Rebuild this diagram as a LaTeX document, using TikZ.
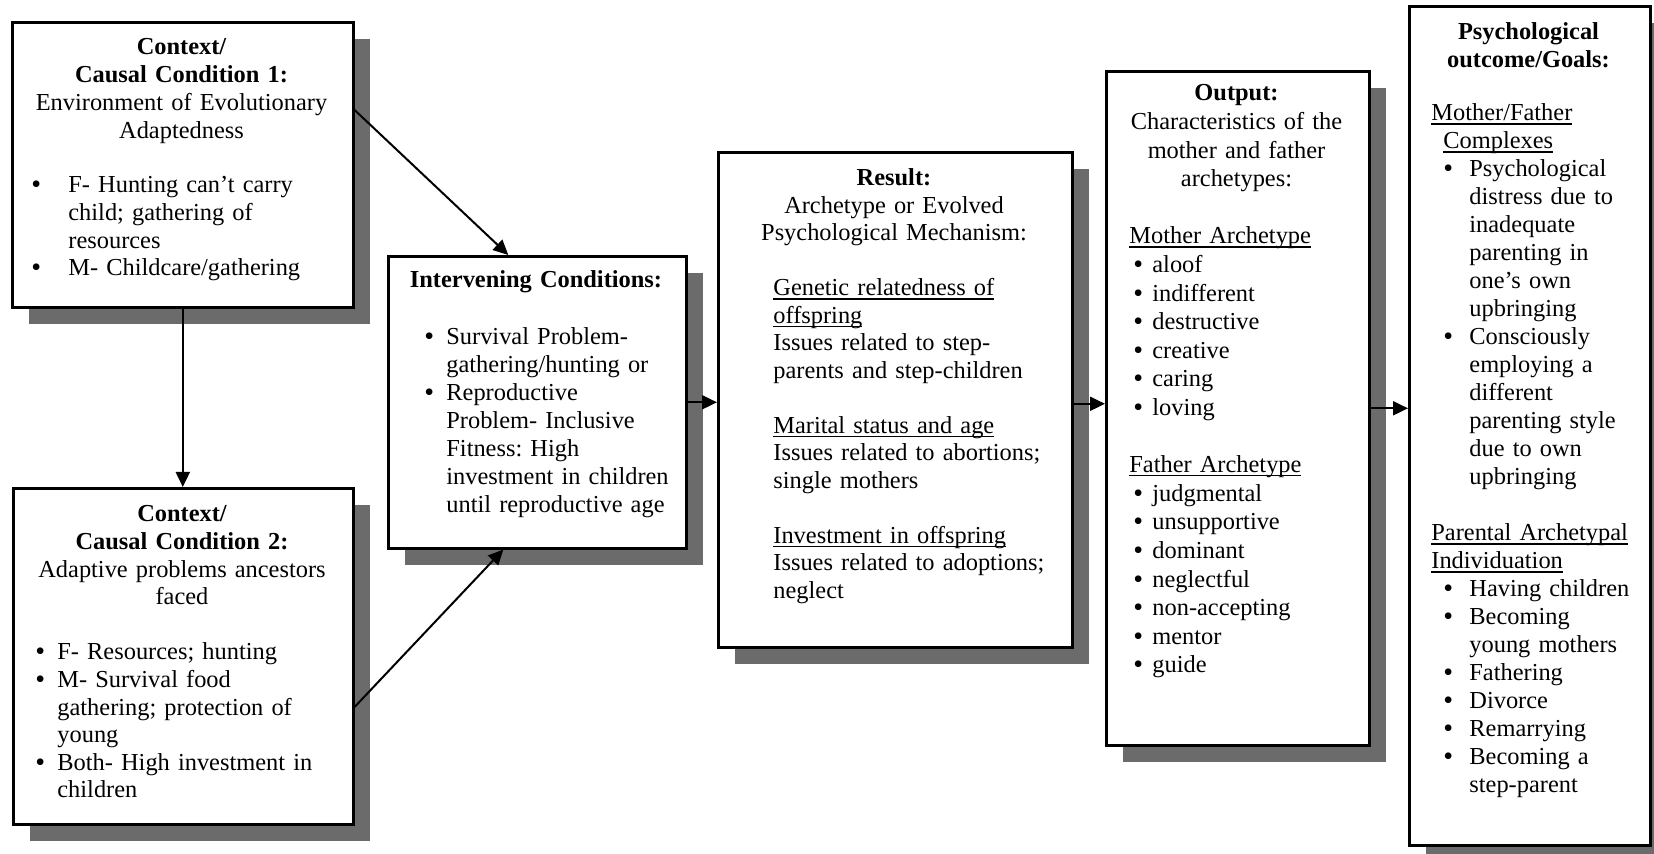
\documentclass[tikz,border=0pt]{standalone}
\usepackage{fontspec}
\setmainfont{Liberation Serif}
\usetikzlibrary{arrows.meta,shadows}
\setlength\parindent{0pt}
\frenchspacing
\newlength\bind
\newlength\bpre
\newsavebox\ulbox
\newcommand\fs[1]{\fontsize{12.2pt}{#1}\selectfont}
\newcommand\bl{\hspace*{\bpre}\makebox[\bind][l]{\smash{\raisebox{-0.5pt}{\fontsize{14pt}{14pt}\selectfont\textbullet}}}}
\newcommand\cl{\hspace*{\bpre}\hspace*{\bind}}
\newcommand\uln[1]{\leavevmode\sbox\ulbox{#1}\rlap{\rule[-1.8pt]{\wd\ulbox}{0.6pt}}\usebox\ulbox}

\begin{document}
\begin{tikzpicture}[x=0.5pt,y=-0.5pt]

\tikzset{panel/.style={draw,line width=1.3pt,fill=white,inner sep=0pt,anchor=north west,
  drop shadow={shadow xshift=8.5pt,shadow yshift=-8.5pt,fill=black!58,opacity=1}},}
\tikzset{headtxt/.style={inner sep=0pt,anchor=base,align=center,text width=#1},}
\tikzset{bodytxt/.style={inner sep=0pt,anchor=base west,align=left,text width=#1},}
\tikzset{arr/.style={-{Triangle[length=7.5pt,width=7pt]},line width=1pt},}

  \useasboundingbox (0,0) rectangle (1654,854);

  \draw (11,21) node[panel,minimum width=170.5pt,minimum height=142.5pt](ctxA) {};
  \draw (12,487) node[panel,minimum width=170pt,minimum height=168pt](ctxB) {};
  \draw (387,255) node[panel,minimum width=149pt,minimum height=146pt](inter) {};
  \draw (717,151) node[panel,minimum width=177pt,minimum height=247.5pt](result) {};
  \draw (1105,70) node[panel,minimum width=131.5pt,minimum height=337pt](output) {};
  \draw (1408,5) node[panel,minimum width=120.5pt,minimum height=419.5pt](psych) {};

  %texts for context 1
  \draw (181.5,55) node[headtxt=165pt,font=\fs{13.9pt}](ctxAhead) {\bfseries Context/\\Causal Condition 1:\\\mdseries Environment of Evolutionary\\Adaptedness};
  \draw (31,192.5) node[bodytxt=155pt,font=\fs{13.9pt}](ctxAbody) {\setlength\bind{18.5pt}%
    \bl F- Hunting can't carry\\\cl child; gathering of\\\cl resources\\\bl M- Childcare/gathering};

  %texts for context 2
  \draw (182,522) node[headtxt=165pt,font=\fs{13.8pt}](ctxBhead) {\bfseries Context/\\Causal Condition 2:\\\mdseries Adaptive problems ancestors\\faced};
  \draw (35,660) node[bodytxt=155pt,font=\fs{13.8pt}](ctxBbody) {\setlength\bind{11pt}%
    \bl F- Resources; hunting\\\bl M- Survival food\\\cl gathering; protection of\\\cl young\\\bl Both- High investment in\\\cl children};

  %texts for intervening conditions
  \draw (536,288) node[headtxt=145pt,font=\fs{14pt}](interhead) {\bfseries Intervening Conditions:};
  \draw (424,345) node[bodytxt=128pt,font=\fs{14pt}](interbody) {\setlength\bind{11pt}%
    \bl Survival Problem-\\\cl gathering/hunting or\\\bl Reproductive\\\cl Problem- Inclusive\\\cl Fitness: High\\\cl investment in children\\\cl until reproductive age};

  %texts for result
  \draw (894,186) node[headtxt=170pt,font=\fs{13.75pt}](resulthead) {\bfseries Result:\\\mdseries Archetype or Evolved\\Psychological Mechanism:};
  \draw (773,296) node[bodytxt=145pt,font=\fs{13.75pt}](resultbody) {%
    \uln{Genetic relatedness of}\\\uln{offspring}\\Issues related to step-\\parents and step-children\\[13.75pt]
    \uln{Marital status and age}\\Issues related to abortions;\\single mothers\\[13.75pt]
    \uln{Investment in offspring}\\Issues related to adoptions;\\neglect};

  %texts for output
  \draw (1236.5,101) node[headtxt=128pt,font=\fs{14.3pt}](outputhead) {\bfseries Output:\\\mdseries Characteristics of the\\mother and father\\archetypes:};
  \draw (1129,244) node[bodytxt=115pt,font=\fs{14.3pt}](outputbody) {\setlength\bind{9.5pt}\setlength\bpre{2pt}%
    \uln{Mother Archetype}\\\bl aloof\\\bl indifferent\\\bl destructive\\\bl creative\\\bl caring\\\bl loving\\[14.3pt]
    \uln{Father Archetype}\\\bl judgmental\\\bl unsupportive\\\bl dominant\\\bl neglectful\\\bl non-accepting\\\bl mentor\\\bl guide};

  %texts for psychological outcome
  \draw (1528.5,40) node[headtxt=118pt,font=\fs{14pt}](psychhead) {\bfseries Psychological\\outcome/Goals:};
  \draw (1431,121) node[bodytxt=106pt,font=\fs{14pt}](psychbody) {\setlength\bind{13pt}\setlength\bpre{6pt}%
    \uln{Mother/Father}\\\hspace*{6pt}\uln{Complexes}\\
    \bl Psychological\\\cl distress due to\\\cl inadequate\\\cl parenting in\\\cl one's own\\\cl upbringing\\
    \bl Consciously\\\cl employing a\\\cl different\\\cl parenting style\\\cl due to own\\\cl upbringing\\[14pt]
    \uln{Parental Archetypal}\\\uln{Individuation}\\
    \bl Having children\\\bl Becoming\\\cl young mothers\\\bl Fathering\\\bl Divorce\\\bl Remarrying\\\bl Becoming a\\\cl step-parent};

  %edges
  \draw[arr] ([yshift=-44.5pt]ctxA.north east) -- ([xshift=-14.5pt]inter.north);
  \draw[arr] (ctxA.south) -- (ctxA.south |- ctxB.north);
  \draw[arr] ([yshift=-110pt]ctxB.north east) -- ([xshift=-17pt]inter.south);
  \draw[arr] (inter.east) -- (inter.east -| result.west);
  \draw[arr] ([yshift=-2pt]result.east) -- ([yshift=-2pt]result.east -| output.west);
  \draw[arr] (output.east) -- (output.east -| psych.west);

\end{tikzpicture}
\end{document}
